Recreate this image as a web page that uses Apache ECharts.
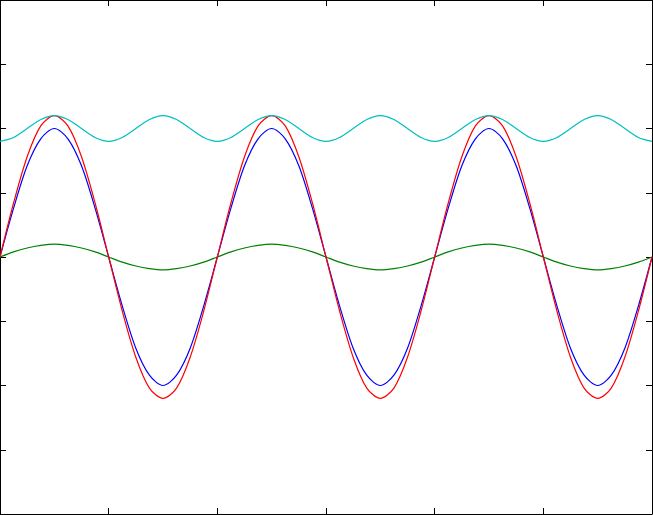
<!DOCTYPE html>
<html><head><meta charset="utf-8">
<script src="https://cdn.jsdelivr.net/npm/echarts@6/dist/echarts.min.js"></script>
<style>html,body{margin:0;padding:0;background:#fff}#c{width:653px;height:515px}</style>
</head><body><div id="c"></div>
<script>
// x positions (3 periods, 16 samples per period)
const xValues = [0,0.125,0.25,0.375,0.5,0.625,0.75,0.875,1,1.125,1.25,1.375,1.5,1.625,1.75,1.875,
 2,2.125,2.25,2.375,2.5,2.625,2.75,2.875,3,3.125,3.25,3.375,3.5,3.625,3.75,3.875,
 4,4.125,4.25,4.375,4.5,4.625,4.75,4.875,5,5.125,5.25,5.375,5.5,5.625,5.75,5.875,6];
const blueValues = [0,0.38,0.71,0.92,1,0.92,0.71,0.38,0,-0.38,-0.71,-0.92,-1,-0.92,-0.71,-0.38,
 0,0.38,0.71,0.92,1,0.92,0.71,0.38,0,-0.38,-0.71,-0.92,-1,-0.92,-0.71,-0.38,
 0,0.38,0.71,0.92,1,0.92,0.71,0.38,0,-0.38,-0.71,-0.92,-1,-0.92,-0.71,-0.38,0];
const redValues = [0,0.42,0.78,1.02,1.1,1.02,0.78,0.42,0,-0.42,-0.78,-1.02,-1.1,-1.02,-0.78,-0.42,
 0,0.42,0.78,1.02,1.1,1.02,0.78,0.42,0,-0.42,-0.78,-1.02,-1.1,-1.02,-0.78,-0.42,
 0,0.42,0.78,1.02,1.1,1.02,0.78,0.42,0,-0.42,-0.78,-1.02,-1.1,-1.02,-0.78,-0.42,0];
const greenValues = [0,0.04,0.07,0.09,0.1,0.09,0.07,0.04,0,-0.04,-0.07,-0.09,-0.1,-0.09,-0.07,-0.04,
 0,0.04,0.07,0.09,0.1,0.09,0.07,0.04,0,-0.04,-0.07,-0.09,-0.1,-0.09,-0.07,-0.04,
 0,0.04,0.07,0.09,0.1,0.09,0.07,0.04,0,-0.04,-0.07,-0.09,-0.1,-0.09,-0.07,-0.04,0];
const cyanValues = [0.9,0.93,1,1.07,1.1,1.07,1,0.93,0.9,0.93,1,1.07,1.1,1.07,1,0.93,
 0.9,0.93,1,1.07,1.1,1.07,1,0.93,0.9,0.93,1,1.07,1.1,1.07,1,0.93,
 0.9,0.93,1,1.07,1.1,1.07,1,0.93,0.9,0.93,1,1.07,1.1,1.07,1,0.93,0.9];

const pairs = ys => xValues.map((x,i)=>[x, ys[i]]);
const axisCommon = {
  axisLine:{show:true,onZero:false,lineStyle:{color:'#000',width:1}},
  axisTick:{show:true,inside:true,length:6,lineStyle:{color:'#000'}},
  axisLabel:{show:false}, splitLine:{show:false}
};
const chart = echarts.init(document.getElementById('c'), null, {renderer:'canvas'});
const mk = (name, ys, color) => ({name, type:'line', data:pairs(ys), showSymbol:false, smooth:0.3,
  lineStyle:{color, width:1.2}, itemStyle:{color}, animation:false});
chart.setOption({
  animation:false,
  grid:{left:0,right:1,top:0,bottom:1},
  xAxis:[
    Object.assign({type:'value',min:0,max:6,interval:1,position:'bottom'},axisCommon),
    Object.assign({type:'value',min:0,max:6,interval:1,position:'top'},axisCommon)
  ],
  yAxis:[
    Object.assign({type:'value',min:-2,max:2,interval:0.5,position:'left'},axisCommon),
    Object.assign({type:'value',min:-2,max:2,interval:0.5,position:'right'},axisCommon)
  ],
  series:[
    mk('blue', blueValues, '#0000ff'),
    mk('green', greenValues, '#008000'),
    mk('red', redValues, '#ff0000'),
    mk('cyan', cyanValues, '#00bfbf')
  ]
});
</script></body></html>
